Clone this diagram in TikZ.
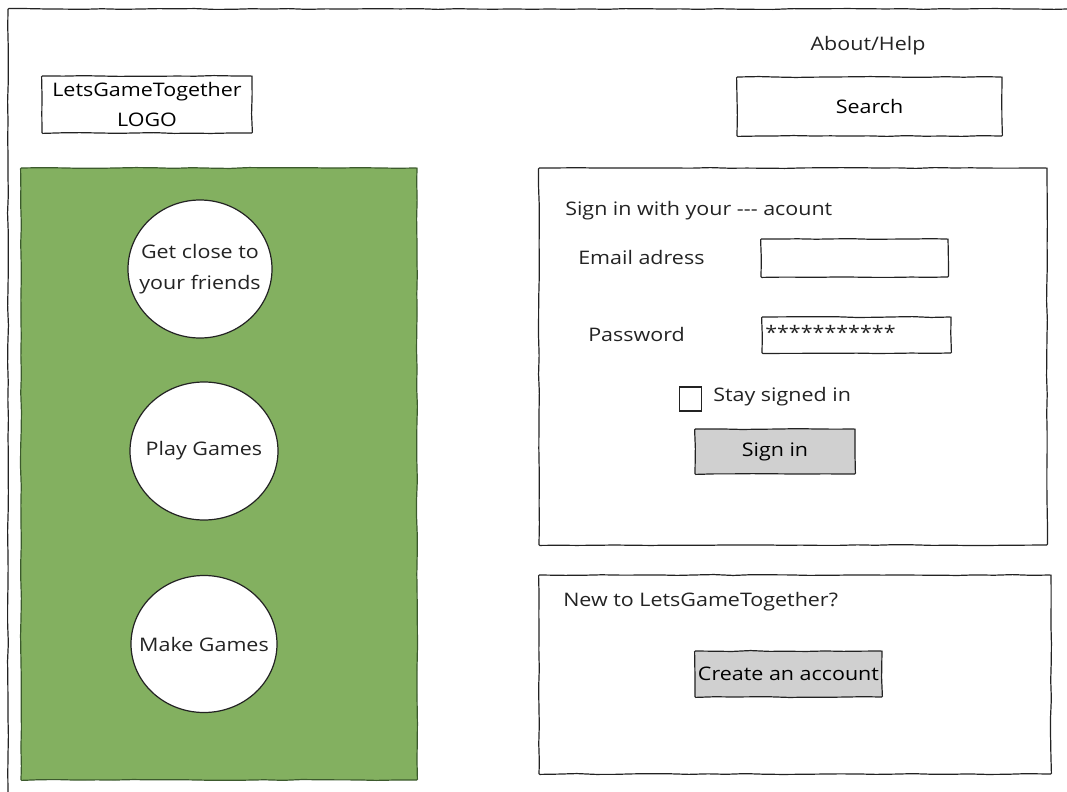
\documentclass[tikz,border=0pt]{standalone}
\usepackage{fontspec}
\setmainfont[FakeStretch=1.15]{Open Sans}
\usetikzlibrary{decorations.pathmorphing,shapes.geometric}
\definecolor{panelgreen}{RGB}{131,176,96}
\definecolor{paneledge}{RGB}{60,90,45}
\definecolor{btngray}{RGB}{208,208,208}
\definecolor{ink}{RGB}{35,35,35}
\tikzset{
  sketch/.style={decorate,decoration={random steps,segment length=14pt,amplitude=0.35pt},rounded corners=0.6pt},
  box/.style={draw=ink,line width=0.9pt,sketch,rectangle,inner sep=0pt},
  field/.style={box,fill=white},
  button/.style={box,fill=btngray},
  tick/.style={draw=ink,fill=white,line width=0.9pt,rectangle,inner sep=0pt},
  bubble/.style={draw=ink,fill=white,line width=0.9pt,ellipse,inner sep=0pt},
  label/.style={inner sep=0pt,text=ink,align=center},
}
\begin{document}
\begin{tikzpicture}[x=0.75pt,y=-0.75pt,font=\fontsize{14}{23}\selectfont]
\useasboundingbox (0,0) rectangle (1067,792);
% outer frame
\draw[ink,line width=0.9pt,sketch] (8,792) -- (8,9) -- (1067,9);
% header
\node[box,minimum width=157.5pt,minimum height=42.75pt,align=center] (logo) at (147,104.5) {LetsGameTogether\\LOGO};
\node[label] (about) at (868,46) {About/Help};
\node[box,minimum width=198.75pt,minimum height=44.25pt] (search) at (869.5,106.5) {Search};
% green panel
\node[draw=paneledge,fill=panelgreen,line width=0.9pt,sketch,rectangle,minimum width=297pt,minimum height=459pt] (panel) at (219,474) {};
\node[bubble,minimum width=108pt,minimum height=103.5pt] (friends) at (200,269) {};
\node[label] (friendstxt) at (friends.center) {Get close to\\your friends};
\node[bubble,minimum width=111pt,minimum height=103.5pt] (play) at (204,451) {};
\node[label] (playtxt) at (play.center) {Play Games};
\node[bubble,minimum width=109.5pt,minimum height=102.75pt] (make) at (204,644) {};
\node[label] (maketxt) at (make.center) {Make Games};
% sign in box
\node[box,minimum width=381pt,minimum height=282.75pt] (signbox) at (793,356.5) {};
\node[label,anchor=west] (signtitle) at (565,211) {Sign in with your {-}{-}{-} acount};
\node[label,anchor=west] (emaillbl) at (578,257) {Email adress};
\node[field,minimum width=140.25pt,minimum height=28.5pt] (email) at (854.5,258) {};
\node[label,anchor=west] (pwlbl) at (588,334) {Password};
\node[field,minimum width=141.75pt,minimum height=27pt] (pw) at (856.5,335) {};
\node[label,anchor=base west] (pwtext) at (765,339) {***********};
\node[tick,minimum width=16pt,minimum height=18pt] (check) at (690.5,399) {};
\node[label,anchor=west] (staylbl) at (713,397) {Stay signed in};
\node[button,minimum width=120pt,minimum height=33.75pt] (signin) at (775,451.5) {Sign in};
% new account box
\node[box,minimum width=384pt,minimum height=149.25pt] (newbox) at (795,674.5) {};
\node[label,anchor=west] (newlbl) at (563,602) {New to LetsGameTogether?};
\node[button,minimum width=140.25pt,minimum height=34.5pt] (create) at (788.5,674) {Create an account};
\end{tikzpicture}
\end{document}
